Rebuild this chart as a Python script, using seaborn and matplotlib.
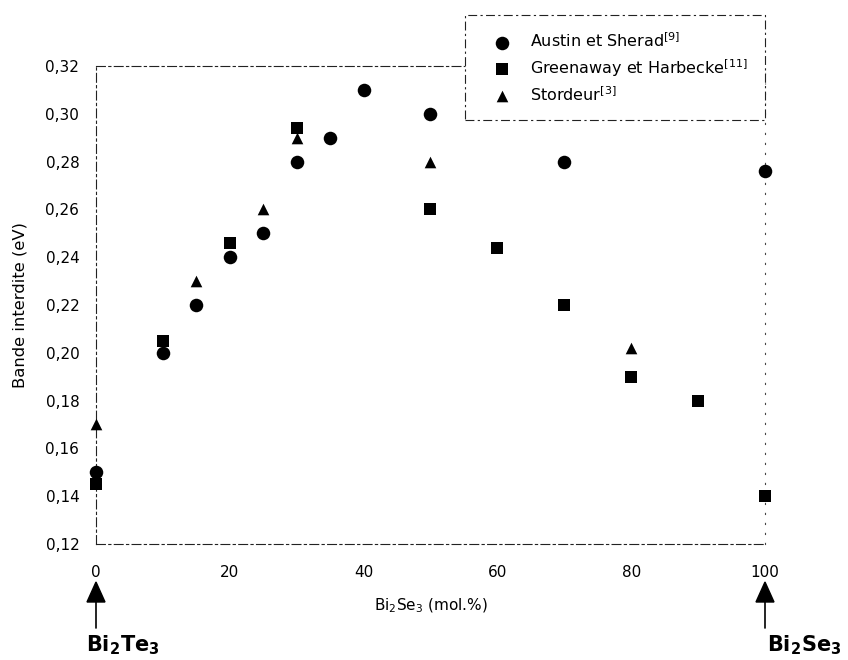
import matplotlib
matplotlib.use("Agg")
import matplotlib.pyplot as plt
from matplotlib.ticker import FuncFormatter
import seaborn as sns
import pandas as pd

# Band gap of Bi2Te3-Bi2Se3 alloys vs. Bi2Se3 content
austin_x = [0, 10, 15, 20, 25, 30, 35, 40, 50, 70, 100]
austin_y = [0.150, 0.200, 0.220, 0.240, 0.250, 0.280, 0.290, 0.310, 0.300, 0.280, 0.276]

greenaway_x = [0, 10, 20, 30, 50, 60, 70, 80, 90, 100]
greenaway_y = [0.145, 0.205, 0.246, 0.294, 0.260, 0.244, 0.220, 0.190, 0.180, 0.140]

stordeur_x = [0, 15, 25, 30, 50, 80]
stordeur_y = [0.170, 0.230, 0.260, 0.290, 0.280, 0.202]

series_labels = [r"Austin et Sherad$^{[9]}$",
                 r"Greenaway et Harbecke$^{[11]}$",
                 r"Stordeur$^{[3]}$"]

x_ticks = [0, 20, 40, 60, 80, 100]
y_ticks = [0.12, 0.14, 0.16, 0.18, 0.20, 0.22, 0.24, 0.26, 0.28, 0.30, 0.32]

frames = []
for lab, xs, ys in zip(series_labels,
                       [austin_x, greenaway_x, stordeur_x],
                       [austin_y, greenaway_y, stordeur_y]):
    frames.append(pd.DataFrame({"x": xs, "y": ys, "source": lab}))
df = pd.concat(frames, ignore_index=True)

sns.set_theme(style="white")
plt.rcParams["font.family"] = ["DejaVu Sans"]
plt.rcParams["text.color"] = "black"
plt.rcParams["axes.labelcolor"] = "black"

W, H = 848, 660
fig = plt.figure(figsize=(W / 100, H / 100), dpi=100)
ax = fig.add_axes([96 / W, 1 - 544 / H, (765 - 96) / W, (544 - 66) / H])

markers = {series_labels[0]: "o", series_labels[1]: "s", series_labels[2]: "^"}
sizes = {series_labels[0]: 95, series_labels[1]: 70, series_labels[2]: 70}
for lab in series_labels:
    sub = df[df["source"] == lab]
    sns.scatterplot(data=sub, x="x", y="y", marker=markers[lab], s=sizes[lab],
                    color="black", edgecolor="black", linewidth=0, ax=ax,
                    label=lab, clip_on=False, zorder=3)

ax.set_xlim(0, 100)
ax.set_ylim(0.12, 0.32)
ax.set_xticks(x_ticks)
ax.set_yticks(y_ticks)
ax.yaxis.set_major_formatter(FuncFormatter(lambda v, p: f"{v:.2f}".replace(".", ",")))
ax.tick_params(axis="both", labelsize=11, colors="black", direction="in",
               length=3, width=0.8)
ax.tick_params(axis="x", pad=15)
ax.tick_params(axis="y", pad=12)

for side in ["left", "bottom", "top"]:
    ax.spines[side].set_visible(True)
    ax.spines[side].set_color("#222222")
    ax.spines[side].set_linewidth(0.8)
    ax.spines[side].set_linestyle((0, (8, 3, 2, 3)))
ax.spines["right"].set_visible(True)
ax.spines["right"].set_color("#444444")
ax.spines["right"].set_linewidth(0.8)
ax.spines["right"].set_linestyle((0, (1, 8)))

ax.set_xlabel(r"Bi$_2$Se$_3$ (mol.%)", fontsize=11, labelpad=12)
ax.set_ylabel("Bande interdite (eV)", fontsize=11.8, labelpad=13)

leg = ax.legend(loc="upper right", bbox_to_anchor=(765 / W, 1 - 15 / H),
                bbox_transform=fig.transFigure, frameon=True, fancybox=False,
                fontsize=11.5, labelspacing=0.4, handletextpad=0.43,
                borderpad=1.05, borderaxespad=0, handlelength=2.64,
                framealpha=1)
frame = leg.get_frame()
frame.set_edgecolor("#222222")
frame.set_linewidth(0.8)
frame.set_linestyle((0, (8, 3, 2, 3)))
leg.set_zorder(5)

# End-member compounds marked below the composition axis
for xv, txt, dx in [(0, r"$\mathbf{Bi_2Te_3}$", -10), (100, r"$\mathbf{Bi_2Se_3}$", 2)]:
    xf = (96 + xv / 100 * (765 - 96)) / W
    fig.patches.append(plt.Polygon([[xf - 9 / W, 1 - 602 / H],
                                    [xf + 9 / W, 1 - 602 / H],
                                    [xf, 1 - 582 / H]],
                                   closed=True, color="black",
                                   transform=fig.transFigure, figure=fig))
    fig.lines.append(plt.Line2D([xf, xf], [1 - 600 / H, 1 - 628 / H],
                                color="black", lw=1.2,
                                transform=fig.transFigure, figure=fig))
    fig.text(xf + dx / W, 1 - 645 / H, txt, fontsize=15, ha="left", va="center",
             color="black")

fig.savefig("out.png", dpi=100, facecolor="white")
